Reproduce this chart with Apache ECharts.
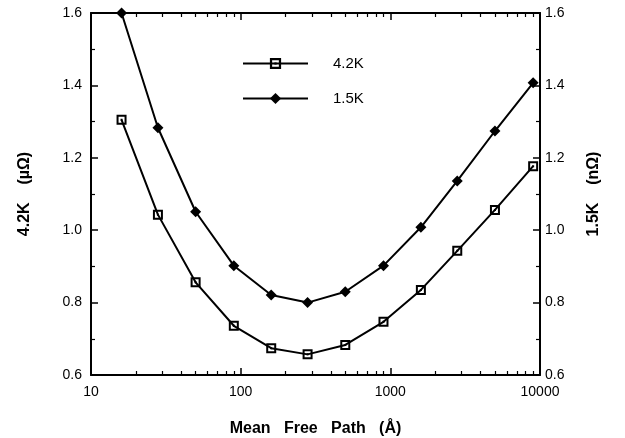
<!DOCTYPE html>
<html>
<head>
<meta charset="utf-8">
<script src="https://cdn.jsdelivr.net/npm/echarts@6/dist/echarts.min.js"></script>
<style>
  html, body { margin: 0; padding: 0; background: #fff; }
  #chart { width: 625px; height: 438px; }
</style>
</head>
<body>
<div id="chart"></div>
<script>
// Mean free path (Å) for each sample
const meanFreePath = [16, 28, 50, 90, 160, 280, 500, 900, 1600, 2800, 5000, 9000];
// Resistance at 4.2 K (µΩ) and at 1.5 K (nΩ)
const res42K = [1.305, 1.043, 0.856, 0.736, 0.674, 0.657, 0.683, 0.747, 0.835, 0.943, 1.056, 1.177];
const res15K = [1.600, 1.283, 1.051, 0.902, 0.821, 0.800, 0.830, 0.902, 1.008, 1.136, 1.274, 1.407];
// Log-axis decades and in-between minor ticks
const majorTicks = [10, 100, 1000, 10000];
const minorTicks = [20, 30, 40, 50, 60, 70, 80, 90, 200, 300, 400, 500, 600, 700, 800, 900,
                    2000, 3000, 4000, 5000, 6000, 7000, 8000, 9000];

const FONT = 'Liberation Sans, Arial, Helvetica, sans-serif';
const openSquare = 'path://M0,0H10V10H0Z M2,2V8H8V2Z M4,4H6V6H4Z';
const plotRect = { left: 91, right: 85, top: 13, bottom: 63, outerBoundsMode: 'none', containLabel: false };

const pairs = (xs, ys) => xs.map((x, i) => [x, ys[i]]);

// Framed log axis with decade ticks (main grid)
const logAxis = (extra) => Object.assign({
  type: 'log', logBase: 10, min: 10, max: 10000, gridIndex: 0,
  splitLine: { show: false },
  axisLine: { show: true, lineStyle: { color: '#000', width: 2 } },
  axisTick: { show: true, inside: true, length: 7, lineStyle: { color: '#000', width: 1.5 }, customValues: majorTicks },
  axisLabel: { show: false }
}, extra);

// Minor log ticks live on an overlaid grid of the same size
const minorAxis = (pos) => ({
  type: 'log', logBase: 10, min: 10, max: 10000, position: pos, gridIndex: 1,
  splitLine: { show: false },
  axisLine: { show: false },
  axisTick: { show: true, inside: true, length: 4, lineStyle: { color: '#000', width: 1.2 }, customValues: minorTicks },
  axisLabel: { show: false }
});

const valAxis = (pos, extra) => Object.assign({
  type: 'value', position: pos, min: 0.6, max: 1.6, interval: 0.2, gridIndex: 0,
  splitLine: { show: false },
  axisLine: { show: true, lineStyle: { color: '#000', width: 2 } },
  axisTick: { show: true, inside: true, length: 7, lineStyle: { color: '#000', width: 1.5 } },
  minorTick: { show: true, splitNumber: 2, length: 4, lineStyle: { color: '#000', width: 1.2 } },
  nameLocation: 'middle', nameRotate: 90,
  nameTextStyle: { color: '#000', fontFamily: FONT, fontSize: 16, fontWeight: 'bold' }
}, extra);

const yLabel = (margin) => ({ color: '#000', fontFamily: FONT, fontSize: 14, margin: margin, formatter: v => v.toFixed(1) });

const chart = echarts.init(document.getElementById('chart'), null, { renderer: 'canvas' });
chart.setOption({
  animation: false,
  backgroundColor: '#fff',
  grid: [Object.assign({}, plotRect), Object.assign({}, plotRect)],
  legend: {
    orient: 'vertical', left: 242, top: 56, padding: 0,
    itemWidth: 65, itemHeight: 14, itemGap: 20,
    textStyle: { color: '#000', fontFamily: FONT, fontSize: 15, padding: [0, 0, 0, 20] },
    data: ['4.2K', '1.5K']
  },
  xAxis: [
    logAxis({
      position: 'bottom',
      axisLabel: { show: true, color: '#000', fontFamily: FONT, fontSize: 14, margin: 10,
                   customValues: majorTicks, formatter: v => String(Math.round(v)) },
      name: 'Mean   Free   Path   (Å)', nameLocation: 'middle', nameGap: 46,
      nameTextStyle: { color: '#000', fontFamily: FONT, fontSize: 16, fontWeight: 'bold' }
    }),
    logAxis({ position: 'top' }),
    minorAxis('bottom'),
    minorAxis('top')
  ],
  yAxis: [
    valAxis('left', { name: '4.2K    (µΩ)', nameGap: 58, axisLabel: yLabel(9) }),
    valAxis('right', { name: '1.5K    (nΩ)', nameGap: 46, axisLabel: yLabel(5) }),
    { type: 'value', gridIndex: 1, min: 0.6, max: 1.6, show: false }
  ],
  series: [
    {
      name: '4.2K', type: 'line', xAxisIndex: 0, yAxisIndex: 0,
      data: pairs(meanFreePath, res42K),
      symbol: openSquare, symbolSize: 10,
      lineStyle: { color: '#000', width: 2 },
      itemStyle: { color: '#000' }
    },
    {
      name: '1.5K', type: 'line', xAxisIndex: 0, yAxisIndex: 1,
      data: pairs(meanFreePath, res15K),
      symbol: 'diamond', symbolSize: 11,
      lineStyle: { color: '#000', width: 2 },
      itemStyle: { color: '#000' }
    }
  ]
});
</script>
</body>
</html>
